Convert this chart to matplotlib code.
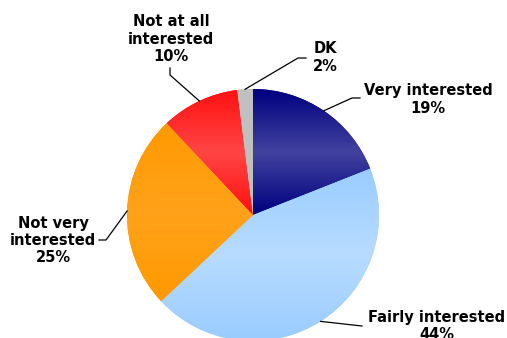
import numpy as np
import matplotlib
matplotlib.use("Agg")
import matplotlib.pyplot as plt
from matplotlib.colors import LinearSegmentedColormap

labels = ["Very interested", "Fairly interested", "Not very\ninterested",
          "Not at all\ninterested", "DK"]
values = [19, 44, 25, 10, 2]
# edge colour, middle colour of the vertical gradient in each slice
edge_cols = ["#000080", "#99ccff", "#ff9900", "#ff1010", "#c0c0c0"]
mid_cols = ["#42429f", "#b8dcff", "#ffa21a", "#ff4545", "#c0c0c0"]

W, H = 507, 338
fig = plt.figure(figsize=(W / 100, H / 100), dpi=100)
ax = fig.add_axes([0, 0, 1, 1])

cx, cy, r = 253, H - 215, 126
wedges, _ = ax.pie(values, center=(cx, cy), radius=r, startangle=90,
                   counterclock=False, colors=edge_cols, frame=True,
                   wedgeprops=dict(linewidth=0))

# gradient fill clipped to each wedge
for w, c0, c1 in zip(wedges, edge_cols, mid_cols):
    cmap = LinearSegmentedColormap.from_list("g", [c0, c1, c0])
    bb = w.get_path().get_extents(w.get_patch_transform())
    grad = np.linspace(0, 1, 256).reshape(-1, 1)
    im = ax.imshow(grad, cmap=cmap, extent=[bb.x0, bb.x1, bb.y0, bb.y1],
                   origin="lower", aspect="auto", zorder=2)
    im.set_clip_path(w)

ax.set_xlim(0, W)
ax.set_ylim(0, H)
ax.set_aspect("equal")
ax.axis("off")

# label text centres and leader elbows (pixel coords from top)
text_pos = [(428, 99.5), (437, 326), (53, 240.5), (171, 39), (325, 57.5)]
elbows = [[(360, 98), (352, 98)], [(362, 326)], [(99, 240), (106, 240)],
          [(170, 68), (170, 75)], [(306, 58), (298, 58)]]

for w, lab, v, (tx, ty), el in zip(wedges, labels, values, text_pos, elbows):
    ang = np.deg2rad((w.theta1 + w.theta2) / 2)
    px, py = cx + r * np.cos(ang), cy + r * np.sin(ang)
    xs = [e[0] for e in el] + [px]
    ys = [H - e[1] for e in el] + [py]
    ax.plot(xs, ys, color="black", lw=0.9, zorder=3)
    ax.text(tx, H - ty, f"{lab}\n{v}%", ha="center", va="center",
            fontsize=10.5, fontweight="bold", linespacing=1.2, zorder=4)

fig.savefig("out.png", dpi=100)
